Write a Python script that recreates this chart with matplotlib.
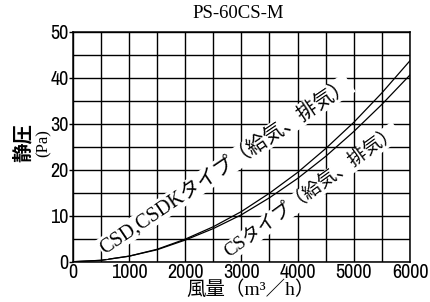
import matplotlib
matplotlib.use("Agg")
import matplotlib.pyplot as plt
from matplotlib.ticker import MultipleLocator

# Data
flow = [0, 500, 1000, 1500, 2000, 2500, 3000, 3500, 4000, 4500, 5000, 5500, 6000]
p_csd = [0, 0.3, 1.2, 2.7, 4.9, 7.6, 10.9, 14.9, 19.4, 24.6, 30.3, 36.7, 43.7]
p_cs = [0, 0.3, 1.2, 2.6, 4.7, 7.2, 10.2, 13.9, 18.1, 22.9, 28.3, 34.2, 40.6]
xticks = [0, 1000, 2000, 3000, 4000, 5000, 6000]
yticks = [0, 10, 20, 30, 40, 50]
title = "PS-60CS-M"
label_csd = "CSD,CSDKタイプ（給気、排気）"
label_cs = "CSタイプ（給気、排気）"

mixed = ['Liberation Serif', 'Noto Sans CJK JP']
num_font = ['Archivo Narrow', 'DejaVu Sans']

fig = plt.figure(figsize=(4.31, 3.02), dpi=100)
ax = fig.add_axes([0.1687, 0.1334, 0.9513 - 0.1687, 0.895 - 0.1334])

ax.set_xlim(0, 6000)
ax.set_ylim(0, 50)
ax.xaxis.set_minor_locator(MultipleLocator(500))
ax.yaxis.set_minor_locator(MultipleLocator(5))
ax.set_xticks(xticks)
ax.set_yticks(yticks)
ax.grid(True, which='both', color='black', linewidth=1.0)
ax.set_axisbelow(True)
for s in ax.spines.values():
    s.set_linewidth(1.1)
    s.set_color('black')

ax.tick_params(axis='x', which='both', length=0, pad=1)
ax.tick_params(axis='y', which='major', length=3, width=1.0, pad=0)
ax.tick_params(axis='y', which='minor', length=0)
for lbl in ax.get_xticklabels() + ax.get_yticklabels():
    lbl.set_family(num_font)
    lbl.set_fontsize(14.5)

ax.plot(flow, p_csd, color='black', linewidth=0.9, zorder=3)
ax.plot(flow, p_cs, color='black', linewidth=0.9, zorder=3)

box = dict(facecolor='white', edgecolor='none', pad=0.5)
ax.text(560, 1.6, label_csd, rotation=34, rotation_mode='anchor',
        ha='left', va='baseline', family=mixed, fontsize=14.5, bbox=box, zorder=4)
ax.text(2790, 0.9, label_cs, rotation=36, rotation_mode='anchor',
        ha='left', va='baseline', family=mixed, fontsize=13.5, bbox=box, zorder=4)

fig.text(238 / 431, 1 - 14 / 302, title, family='Liberation Serif', fontsize=13.5,
         ha='center', va='center')
fig.text(23 / 431, 1 - 143 / 302, "静圧", family=['Noto Sans CJK JP'], fontsize=14,
         fontweight='bold', rotation=90, ha='center', va='center')
fig.text(44 / 431, 1 - 143 / 302, "(Pa)", family='Liberation Serif', fontsize=12,
         rotation=90, ha='center', va='center')
fig.text(251 / 431, 1 - 290 / 302, "風量（m³／h）", family=mixed, fontsize=14,
         ha='center', va='center')

fig.savefig("out.png", dpi=100)
